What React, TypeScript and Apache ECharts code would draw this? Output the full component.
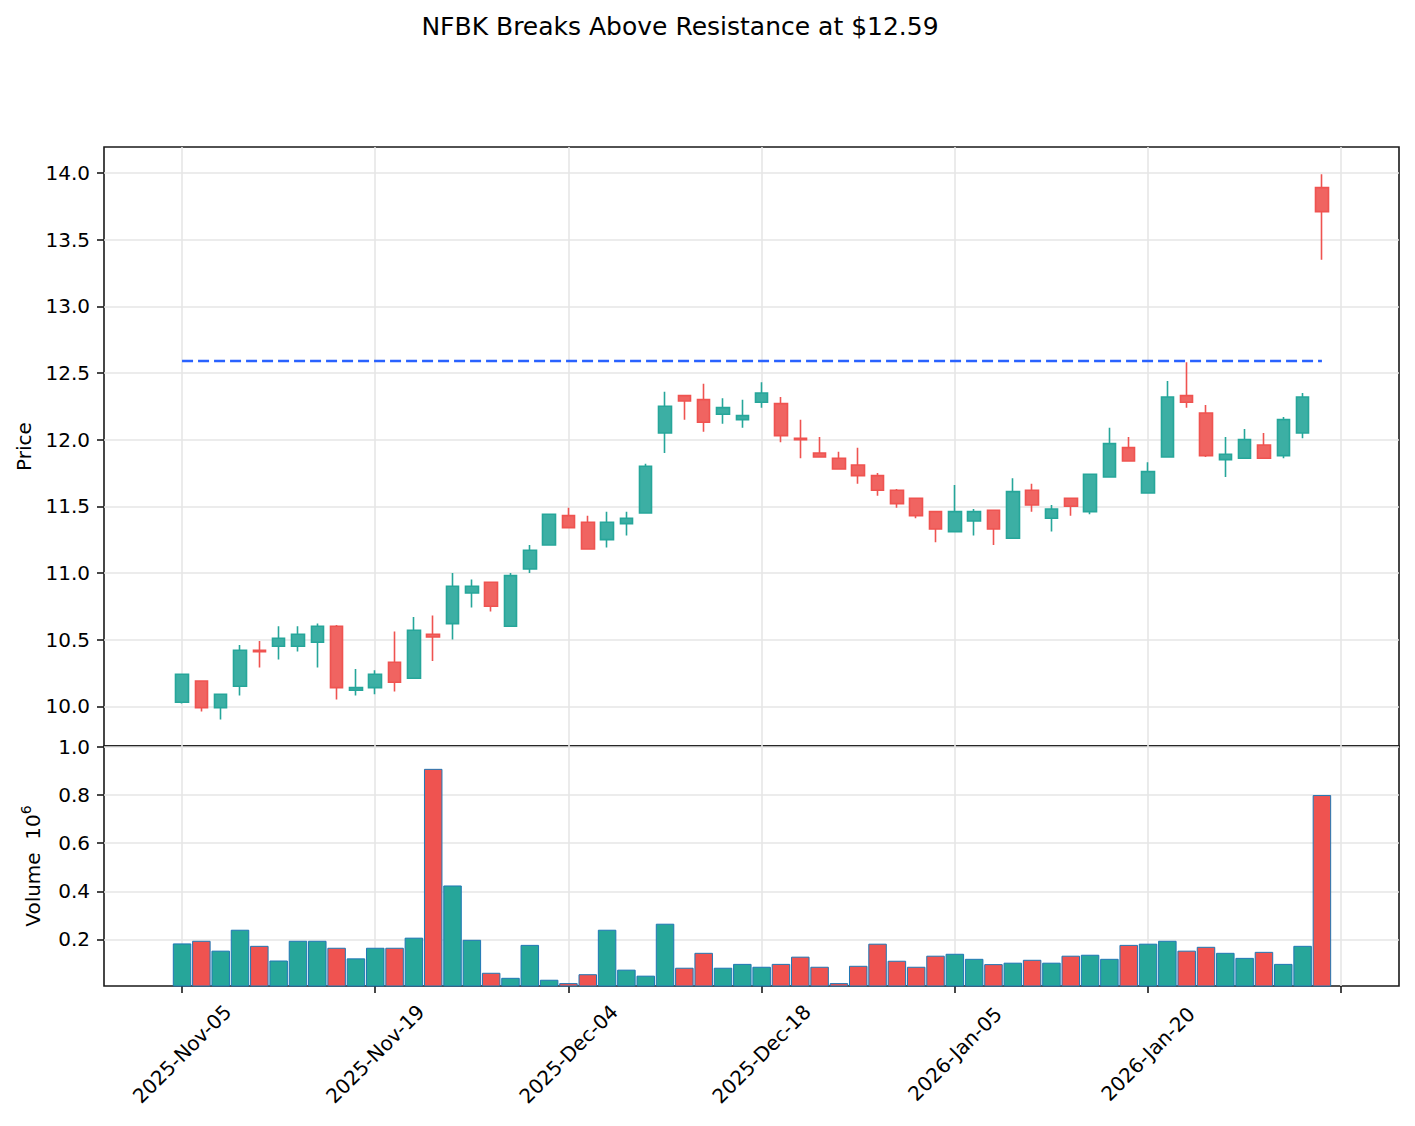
import React, { useEffect, useRef } from "react";
import * as echarts from "echarts";

const dates = [
  "2025-11-05", "2025-11-06", "2025-11-07", "2025-11-10", "2025-11-11", "2025-11-12", "2025-11-13", "2025-11-14", "2025-11-17", "2025-11-18",
  "2025-11-19", "2025-11-20", "2025-11-21", "2025-11-24", "2025-11-25", "2025-11-26", "2025-11-28", "2025-12-01", "2025-12-02", "2025-12-03",
  "2025-12-04", "2025-12-05", "2025-12-08", "2025-12-09", "2025-12-10", "2025-12-11", "2025-12-12", "2025-12-15", "2025-12-16", "2025-12-17",
  "2025-12-18", "2025-12-19", "2025-12-22", "2025-12-23", "2025-12-24", "2025-12-26", "2025-12-29", "2025-12-30", "2025-12-31", "2026-01-02",
  "2026-01-05", "2026-01-06", "2026-01-07", "2026-01-08", "2026-01-09", "2026-01-12", "2026-01-13", "2026-01-14", "2026-01-15", "2026-01-16",
  "2026-01-20", "2026-01-21", "2026-01-22", "2026-01-23", "2026-01-26", "2026-01-27", "2026-01-28", "2026-01-29", "2026-01-30", "2026-02-02",
];

const opens = [
  10.03, 10.19, 9.99, 10.15, 10.42, 10.45, 10.45, 10.48, 10.6, 10.12,
  10.14, 10.33, 10.21, 10.54, 10.62, 10.85, 10.93, 10.6, 11.03, 11.21,
  11.43, 11.38, 11.25, 11.37, 11.45, 12.05, 12.33, 12.3, 12.19, 12.15,
  12.28, 12.27, 12.01, 11.9, 11.86, 11.81, 11.73, 11.62, 11.56, 11.46,
  11.31, 11.39, 11.47, 11.26, 11.62, 11.41, 11.56, 11.46, 11.72, 11.94,
  11.6, 11.87, 12.33, 12.2, 11.85, 11.86, 11.96, 11.88, 12.05, 13.89,
];
const closes = [
  10.24, 9.99, 10.09, 10.42, 10.41, 10.51, 10.54, 10.6, 10.14, 10.14,
  10.24, 10.18, 10.57, 10.52, 10.9, 10.9, 10.75, 10.98, 11.17, 11.44,
  11.34, 11.18, 11.38, 11.41, 11.8, 12.25, 12.29, 12.13, 12.24, 12.18,
  12.35, 12.03, 12.0, 11.87, 11.78, 11.73, 11.62, 11.52, 11.43, 11.33,
  11.46, 11.46, 11.33, 11.61, 11.51, 11.48, 11.5, 11.74, 11.97, 11.84,
  11.76, 12.32, 12.28, 11.88, 11.89, 12.0, 11.86, 12.15, 12.32, 13.71,
];
const lows = [
  10.02, 9.96, 9.9, 10.08, 10.29, 10.35, 10.41, 10.29, 10.05, 10.08,
  10.09, 10.11, 10.21, 10.34, 10.5, 10.74, 10.71, 10.6, 11.0, 11.21,
  11.34, 11.18, 11.19, 11.28, 11.45, 11.9, 12.15, 12.06, 12.12, 12.09,
  12.24, 11.98, 11.86, 11.87, 11.78, 11.67, 11.58, 11.49, 11.41, 11.23,
  11.31, 11.28, 11.21, 11.26, 11.46, 11.31, 11.43, 11.44, 11.72, 11.84,
  11.6, 11.87, 12.24, 11.87, 11.72, 11.86, 11.86, 11.86, 12.01, 13.35,
];
const highs = [
  10.24, 10.19, 10.09, 10.46, 10.49, 10.6, 10.6, 10.62, 10.61, 10.28,
  10.27, 10.56, 10.67, 10.68, 11.0, 10.95, 10.93, 11.0, 11.21, 11.44,
  11.49, 11.43, 11.46, 11.46, 11.82, 12.36, 12.33, 12.42, 12.31, 12.3,
  12.43, 12.32, 12.15, 12.02, 11.91, 11.94, 11.75, 11.63, 11.56, 11.46,
  11.66, 11.48, 11.47, 11.71, 11.67, 11.51, 11.56, 11.74, 12.09, 12.02,
  11.83, 12.44, 12.58, 12.26, 12.02, 12.08, 12.05, 12.17, 12.35, 13.99,
];
const volumes = [
  183000, 194000, 153000, 240000, 173000, 112000, 194000, 194000, 165000, 121000,
  165000, 165000, 207000, 909000, 424000, 198000, 61000, 40000, 177000, 32000,
  18000, 55000, 240000, 74000, 49000, 265000, 82000, 144000, 82000, 98000,
  86000, 98000, 128000, 86000, 18000, 90000, 182000, 111000, 86000, 132000,
  140000, 119000, 97000, 103000, 115000, 103000, 132000, 136000, 119000, 177000,
  182000, 194000, 153000, 169000, 144000, 123000, 148000, 98000, 173000, 800000,
];

const priceTicks = [10.0, 10.5, 11.0, 11.5, 12.0, 12.5, 13.0, 13.5, 14.0];
const volumeTicks = [0.2, 0.4, 0.6, 0.8, 1.0];
const xTickIdx = [0, 10, 20, 30, 40, 50, 60];
const xLabelIdx = [0, 10, 20, 30, 40, 50];
const resistance = 12.59;
const titleText = "NFBK Breaks Above Resistance at $12.59";

const MONTHS = ["Jan", "Feb", "Mar", "Apr", "May", "Jun", "Jul", "Aug", "Sep", "Oct", "Nov", "Dec"];
function fmtDate(s: string): string {
  if (!s) return "";
  const [y, m, d] = s.split("-");
  return `${y}-${MONTHS[parseInt(m, 10) - 1]}-${d}`;
}

const FONT = "DejaVu Sans";
const UP = "#26a69a";
const DOWN = "#ef5350";
const UP_FILL = "#3cafa4";
const DOWN_FILL = "#f06461";
const GRIDC = "#e6e6e6";
const FRAME = "#1a1a1a";

const XMIN = -4.04;
const XMAX = 62.99;

export default function App() {
  const ref = useRef<HTMLDivElement>(null);
  useEffect(() => {
    if (!ref.current) return;
    const chart = echarts.init(ref.current, null, { renderer: "svg" });
    const candleData = dates.map((_, i) => [i, opens[i], closes[i], lows[i], highs[i]]);
    const volData = dates.map((_, i) => ({
      value: [i, volumes[i] / 1e6],
      itemStyle: { color: closes[i] >= opens[i] ? UP : DOWN },
    }));
    const tickStyle = { color: FRAME, width: 1.6 };
    const labelStyle = { fontFamily: FONT, fontSize: 20, color: "#000" };
    const option: any = {
      animation: false,
      backgroundColor: "#ffffff",
      title: {
        text: titleText,
        left: 675,
        top: 9,
        textAlign: "center",
        textStyle: { fontFamily: FONT, fontSize: 25, fontWeight: "normal", color: "#000" },
      },
      grid: [
        { left: 104, top: 147, width: 1295, height: 599, show: true, borderColor: FRAME, borderWidth: 1.6, backgroundColor: "transparent" },
        { left: 104, top: 746, width: 1295, height: 240, show: true, borderColor: FRAME, borderWidth: 1.6, backgroundColor: "transparent" },
      ],
      xAxis: [
        {
          type: "value",
          gridIndex: 0,
          min: XMIN,
          max: XMAX,
          axisLine: { show: false, onZero: false },
          axisTick: { show: false, customValues: xTickIdx },
          axisLabel: { show: false, customValues: xTickIdx },
          splitLine: { show: true, lineStyle: { color: GRIDC, width: 1.6 } },
        },
        {
          type: "value",
          gridIndex: 1,
          min: XMIN,
          max: XMAX,
          axisLine: { show: false, onZero: false },
          axisTick: { show: true, customValues: xTickIdx, length: 7, lineStyle: tickStyle },
          axisLabel: {
            ...labelStyle,
            customValues: xLabelIdx,
            rotate: 45,
            align: "center",
            verticalAlign: "middle",
            margin: 68,
            formatter: (v: number) => fmtDate(dates[Math.round(v)]),
          },
          splitLine: { show: true, lineStyle: { color: GRIDC, width: 1.6 } },
        },
      ],
      yAxis: [
        {
          type: "value",
          gridIndex: 0,
          min: 9.702,
          max: 14.195,
          axisLine: { show: false, onZero: false },
          axisTick: { show: true, customValues: priceTicks, length: 7, lineStyle: tickStyle },
          axisLabel: { ...labelStyle, customValues: priceTicks, margin: 14, formatter: (v: number) => v.toFixed(1) },
          splitLine: { show: true, lineStyle: { color: GRIDC, width: 1.6 } },
          name: "Price",
          nameLocation: "middle",
          nameRotate: 90,
          nameGap: 70,
          nameTextStyle: { fontFamily: FONT, fontSize: 20, color: "#000" },
        },
        {
          type: "value",
          gridIndex: 1,
          min: 0.006,
          max: 1.004,
          axisLine: { show: false, onZero: false },
          axisTick: { show: true, customValues: volumeTicks, length: 7, lineStyle: tickStyle },
          axisLabel: { ...labelStyle, customValues: volumeTicks, margin: 14, formatter: (v: number) => v.toFixed(1) },
          splitLine: { show: true, lineStyle: { color: GRIDC, width: 1.6 } },
          name: "Volume  10{sup|6}",
          nameLocation: "middle",
          nameRotate: 90,
          nameGap: 57,
          nameTextStyle: {
            fontFamily: FONT,
            fontSize: 20,
            color: "#000",
            rich: { sup: { fontFamily: FONT, fontSize: 14, color: "#000", padding: [0, 0, 14, 0] } },
          },
        },
      ],
      series: [
        {
          type: "candlestick",
          name: "Price",
          xAxisIndex: 0,
          yAxisIndex: 0,
          data: candleData,
          encode: { x: 0, y: [1, 2, 3, 4] },
          barWidth: 13,
          itemStyle: {
            color: UP_FILL,
            color0: DOWN_FILL,
            borderColor: UP,
            borderColor0: DOWN,
            borderWidth: 1.6,
          },
        },
        {
          type: "line",
          name: "Resistance",
          xAxisIndex: 0,
          yAxisIndex: 0,
          data: [
            [0, resistance],
            [dates.length - 1, resistance],
          ],
          symbol: "none",
          lineStyle: { color: "#2962ff", width: 2.6, type: [11, 5] },
          z: 5,
        },
        {
          type: "bar",
          name: "Volume",
          xAxisIndex: 1,
          yAxisIndex: 1,
          data: volData,
          barWidth: 18.5,
          itemStyle: { borderColor: "#1f77b4", borderWidth: 1 },
        },
      ],
    };
    chart.setOption(option);
    return () => chart.dispose();
  }, []);
  return <div ref={ref} style={{ position: "absolute", left: 0, top: 0, width: 1415, height: 1126 }} />;
}
